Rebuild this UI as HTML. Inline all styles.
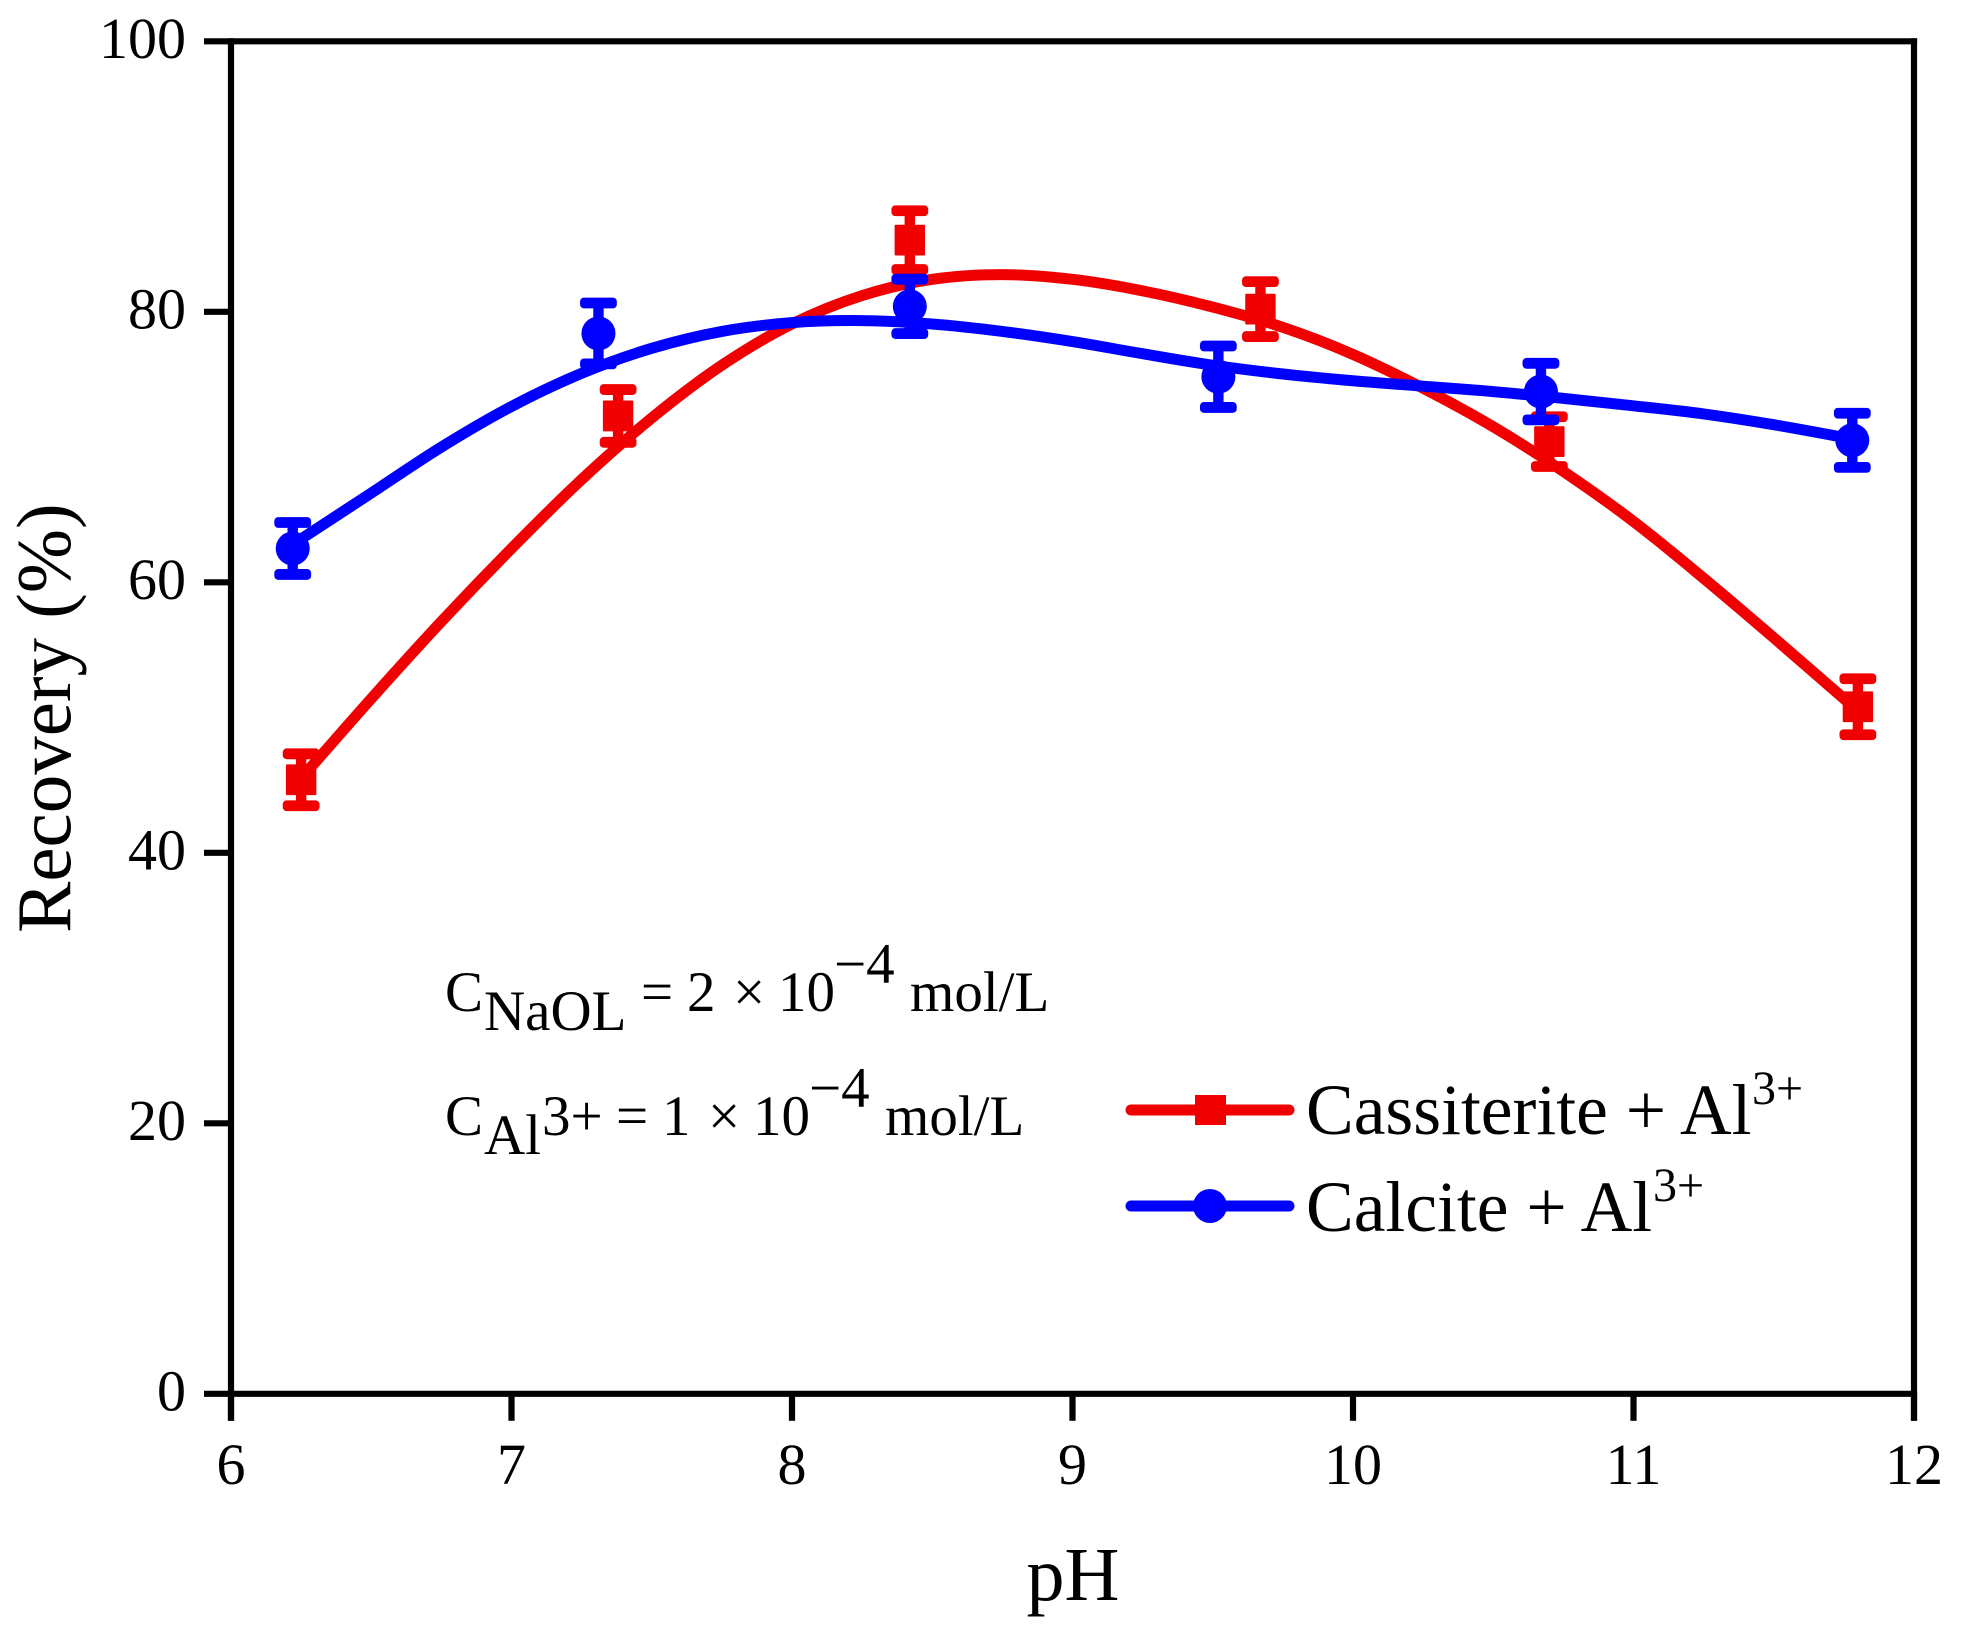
<!DOCTYPE html>
<html lang="en">
<head>
<meta charset="utf-8">
<title>Recovery vs pH</title>
<style>
html,body{margin:0;padding:0;background:#fff;}
svg{display:block;}
text{font-family:"Liberation Serif",serif;fill:#000;}
</style>
</head>
<body>
<svg id="chart" xmlns="http://www.w3.org/2000/svg" width="1961" height="1643" viewBox="0 0 1961 1643">
  <rect x="0" y="0" width="1961" height="1643" fill="#fff"/>
  <g id="series-layer"></g>
  <g id="axes-layer"></g>

  <text x="1073" y="1600" font-size="76" text-anchor="middle">pH</text>
  <text transform="translate(70 933) rotate(-90)" font-size="77">Recovery (%)</text>

  <g font-size="57">
    <text x="445" y="1011">C</text>
    <text x="484" y="1030">NaOL</text>
    <text x="641" y="1011">=</text>
    <text x="687" y="1011">2</text>
    <text x="733" y="1011">×</text>
    <text x="778" y="1011">10</text>
    <text x="834" y="983">−4</text>
    <text x="910" y="1011">mol/L</text>
  </g>
  <g font-size="57">
    <text x="445" y="1135">C</text>
    <text x="484" y="1154">Al</text>
    <text x="542" y="1135">3+</text>
    <text x="616" y="1135">=</text>
    <text x="662" y="1135">1</text>
    <text x="708" y="1135">×</text>
    <text x="753" y="1135">10</text>
    <text x="809" y="1107">−4</text>
    <text x="885" y="1135">mol/L</text>
  </g>

  <g>
    <g>
      <line x1="1131" y1="1110" x2="1289" y2="1110" stroke="#f00000" stroke-width="11" stroke-linecap="round"/>
      <rect x="1195" y="1095" width="31" height="30" fill="#f00000"/>
      <text x="1306" y="1134" font-size="71.5">Cassiterite + Al</text>
      <text x="1752" y="1104" font-size="48">3+</text>
    </g>
    <g>
      <line x1="1131" y1="1206" x2="1289" y2="1206" stroke="#0000ff" stroke-width="11" stroke-linecap="round"/>
      <circle cx="1210" cy="1206" r="17" fill="#0000ff"/>
      <text x="1306" y="1231" font-size="71.5">Calcite + Al</text>
      <text x="1653" y="1201" font-size="48">3+</text>
    </g>
  </g>
</svg>
<script>
// Axis tick labels
const xTicks = [6, 7, 8, 9, 10, 11, 12];
const yTicks = [0, 20, 40, 60, 80, 100];

// Measured points
const cassiteritePH = [6.25, 7.38, 8.42, 9.67, 10.70, 11.80];
const cassiteriteRecovery = [45.4, 72.3, 85.3, 80.2, 70.4, 50.8];
const cassiteriteError = [1.92, 1.95, 2.17, 2.03, 1.84, 2.07];

const calcitePH = [6.22, 7.31, 8.42, 9.52, 10.67, 11.78];
const calciteRecovery = [62.5, 78.4, 80.4, 75.2, 74.1, 70.5];
const calciteError = [1.92, 2.25, 2.01, 2.27, 2.09, 2.0];

// Fitted curves
const cassiteriteFitPH = [6.25, 6.5, 6.75, 7.0, 7.25, 7.5, 7.75, 8.0, 8.25, 8.5, 8.75, 9.0, 9.25, 9.5, 9.75, 10.0, 10.25, 10.5, 10.75, 11.0, 11.25, 11.5, 11.8];
const cassiteriteFitRecovery = [45.5, 51.4, 57.1, 62.5, 67.6, 72.15, 76.05, 79.1, 81.2, 82.4, 82.75, 82.4, 81.55, 80.35, 78.85, 76.85, 74.35, 71.5, 68.2, 64.5, 60.3, 55.9, 50.5];

const calciteFitPH = [6.22, 6.5, 6.75, 7.0, 7.25, 7.5, 7.75, 8.0, 8.25, 8.5, 8.75, 9.0, 9.25, 9.5, 9.75, 10.0, 10.25, 10.5, 10.75, 11.0, 11.25, 11.5, 11.78];
const calciteFitRecovery = [62.8, 66.6, 70.0, 73.0, 75.45, 77.3, 78.55, 79.2, 79.35, 79.1, 78.55, 77.8, 76.9, 76.05, 75.4, 74.9, 74.5, 74.1, 73.6, 73.05, 72.45, 71.65, 70.6];

const SVG_NS = 'http://www.w3.org/2000/svg';
const xMin = 6, xMax = 12, yMin = 0, yMax = 100;
const left = 231, right = 1914, top_ = 41.3, bottom = 1393.8;
function xScale(v) { return left + (v - xMin) / (xMax - xMin) * (right - left); }
function yScale(v) { return bottom - (v - yMin) / (yMax - yMin) * (bottom - top_); }

function make(tag, attrs, parent) {
  const el = document.createElementNS(SVG_NS, tag);
  for (const k in attrs) el.setAttribute(k, attrs[k]);
  parent.appendChild(el);
  return el;
}

function smoothPath(xs, ys) {
  const p = xs.map((x, i) => [xScale(x), yScale(ys[i])]);
  let d = 'M' + p[0][0].toFixed(2) + ' ' + p[0][1].toFixed(2);
  for (let i = 0; i < p.length - 1; i++) {
    const p0 = p[Math.max(0, i - 1)], p1 = p[i], p2 = p[i + 1], p3 = p[Math.min(p.length - 1, i + 2)];
    const c1x = p1[0] + (p2[0] - p0[0]) / 6, c1y = p1[1] + (p2[1] - p0[1]) / 6;
    const c2x = p2[0] - (p3[0] - p1[0]) / 6, c2y = p2[1] - (p3[1] - p1[1]) / 6;
    d += 'C' + c1x.toFixed(2) + ' ' + c1y.toFixed(2) + ' ' + c2x.toFixed(2) + ' ' + c2y.toFixed(2) + ' ' + p2[0].toFixed(2) + ' ' + p2[1].toFixed(2);
  }
  return d;
}

function drawSeries(parent, key, color, shape, fitX, fitY, xs, ys, errs) {
  const g = make('g', {}, parent);
  
  

  const curve = make('path', { d: smoothPath(fitX, fitY), fill: 'none', stroke: color, 'stroke-width': 11, 'stroke-linejoin': 'round' }, g);
  
  

  xs.forEach(function (x, i) {
    const cx = xScale(x), cy = yScale(ys[i]);
    const hi = yScale(ys[i] + errs[i]), lo = yScale(ys[i] - errs[i]);

    const bar = make('g', { fill: color }, g);
    
    
    make('rect', { x: cx - 5.2, y: hi, width: 10.4, height: lo - hi }, bar);
    make('rect', { x: cx - 18.4, y: hi - 5.4, width: 36.8, height: 10.8, rx: 4, ry: 4 }, bar);
    make('rect', { x: cx - 18.4, y: lo - 5.4, width: 36.8, height: 10.8, rx: 4, ry: 4 }, bar);

    let mark;
    if (shape === 'square') {
      mark = make('rect', { x: cx - 15.2, y: cy - 15.4, width: 30.4, height: 30.8, rx: 1, fill: color }, g);
    } else {
      mark = make('circle', { cx: cx, cy: cy, r: 17, fill: color }, g);
    }
    
    
  });
}

const seriesLayer = document.getElementById('series-layer');
drawSeries(seriesLayer, 'cassiterite', '#f00000', 'square', cassiteriteFitPH, cassiteriteFitRecovery, cassiteritePH, cassiteriteRecovery, cassiteriteError);
drawSeries(seriesLayer, 'calcite', '#0000ff', 'circle', calciteFitPH, calciteFitRecovery, calcitePH, calciteRecovery, calciteError);

const axes = document.getElementById('axes-layer');
const axisW = 6.2, tickLen = 27;

const leftAxis = make('line', { x1: left, y1: top_ - axisW / 2, x2: left, y2: bottom + tickLen, stroke: '#000', 'stroke-width': axisW }, axes);


const rightAxis = make('line', { x1: right, y1: top_ - axisW / 2, x2: right, y2: bottom + tickLen, stroke: '#000', 'stroke-width': axisW }, axes);


const topAxis = make('line', { x1: left, y1: top_, x2: right + axisW / 2, y2: top_, stroke: '#000', 'stroke-width': axisW }, axes);


const bottomAxis = make('line', { x1: left, y1: bottom, x2: right + axisW / 2, y2: bottom, stroke: '#000', 'stroke-width': axisW }, axes);



xTicks.forEach(function (t) {
  const x = xScale(t);
  const tick = make('line', { x1: x, y1: bottom, x2: x, y2: bottom + tickLen, stroke: '#000', 'stroke-width': axisW }, axes);
  
  
  const label = make('text', { x: x, y: 1484, 'font-size': 58, 'text-anchor': 'middle' }, axes);
  
  
  label.textContent = String(t);
});

yTicks.forEach(function (t) {
  const y = yScale(t);
  const tick = make('line', { x1: left - tickLen, y1: y, x2: left, y2: y, stroke: '#000', 'stroke-width': axisW }, axes);
  
  
  const label = make('text', { x: 186, y: y + 16.7, 'font-size': 58, 'text-anchor': 'end' }, axes);
  
  
  label.textContent = String(t);
});
</script>
</body>
</html>
